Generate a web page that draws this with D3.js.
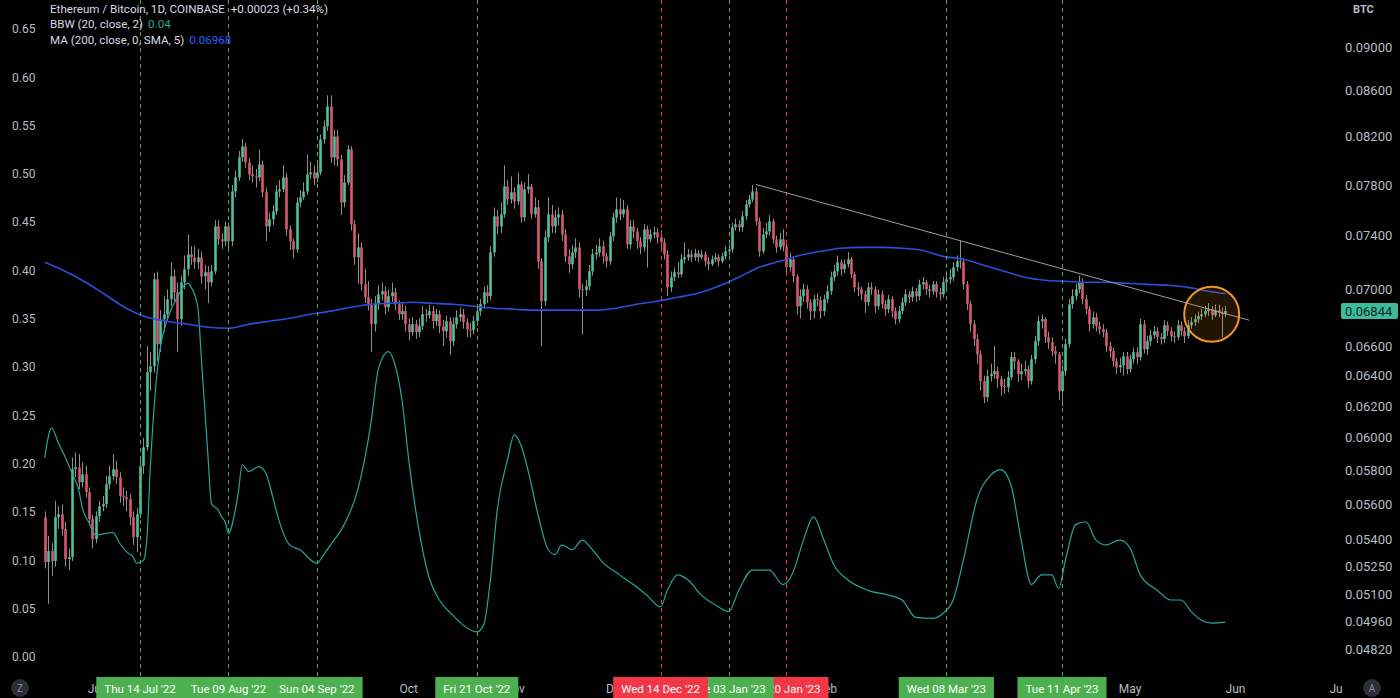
<!DOCTYPE html>
<html><head><meta charset="utf-8">
<script src="https://cdn.jsdelivr.net/npm/d3@7"></script>
<style>html,body{margin:0;padding:0;background:#000;overflow:hidden}text{font-family:Roboto,"Noto Sans",sans-serif}</style>
</head><body>
<svg id="c" width="1400" height="698"></svg>
<script>
// ---------- DATA (ETH/BTC daily, Coinbase) ----------
const startDate = "2022-06-16";
const firstOpen = 0.05526;
const closes = [
.05275,.05335,.05280,.05526,.05543,.05458,.05291,.05302,.05808,.05820,
.05730,.05778,.05671,.05515,.05402,.05532,.05589,.05601,.05718,.05766,
.05808,.05760,.05648,.05642,.05630,.05526,.05413,.05543,.05826,.05942,
.06423,.06463,.07073,.06612,.06786,.06821,.06928,.07095,.06978,.06786,
.07051,.07147,.07258,.07236,.07199,.07236,.07095,.07125,.07051,.07132,
.07472,.07372,.07357,.07472,.07357,.07748,.07861,.08026,.08118,.07985,
.07886,.07870,.07861,.07968,.07740,.07472,.07527,.07589,.07748,.07764,
.07861,.07449,.07357,.07296,.07660,.07700,.07748,.07886,.07902,.07853,
.07902,.08177,.08288,.08462,.08026,.08202,.08010,.07660,.07820,.08093,
.07488,.07236,.07311,.07036,.06942,.06892,.06751,.06892,.06964,.06986,
.06871,.06950,.06978,.06892,.06821,.06843,.06751,.06695,.06751,.06695,
.06737,.06821,.06815,.06843,.06772,.06821,.06737,.06702,.06772,.06633,
.06751,.06800,.06821,.06765,.06716,.06710,.06772,.06843,.06892,.06978,
.06950,.07273,.07550,.07472,.07566,.07788,.07684,.07740,.07668,.07804,
.07542,.07764,.07788,.07566,.07621,.07206,.06914,.07387,.07566,.07472,
.07542,.07566,.07410,.07243,.07184,.07273,.07311,.07000,.06995,.07022,
.07132,.07258,.07273,.07319,.07243,.07206,.07395,.07542,.07605,.07566,
.07605,.07334,.07472,.07433,.07357,.07311,.07449,.07372,.07410,.07426,
.07387,.07349,.07258,.07014,.07088,.07125,.07110,.07221,.07236,.07258,
.07236,.07266,.07236,.07258,.07206,.07184,.07221,.07236,.07206,.07243,
.07281,.07296,.07465,.07488,.07465,.07550,.07644,.07684,.07748,.07511,
.07281,.07410,.07433,.07511,.07372,.07311,.07372,.07319,.07162,.07221,
.07095,.06878,.06950,.07000,.06906,.06843,.06928,.06921,.06843,.06928,
.06986,.07088,.07132,.07199,.07147,.07184,.07221,.07110,.07014,.07000,
.06964,.06906,.07014,.07000,.06878,.06964,.06892,.06857,.06928,.06843,
.06786,.06843,.06906,.06964,.06942,.06986,.06950,.07036,.07051,.07000,
.06986,.07036,.06978,.06964,.07051,.07073,.07088,.07162,.07206,.07199,
.07036,.06892,.06751,.06647,.06544,.06364,.06259,.06397,.06410,.06430,
.06377,.06331,.06324,.06390,.06524,.06496,.06410,.06430,.06443,.06364,
.06510,.06633,.06772,.06786,.06661,.06626,.06565,.06544,.06298,.06430,
.06612,.06892,.06950,.07000,.07051,.06928,.06857,.06751,.06800,.06737,
.06716,.06695,.06599,.06565,.06496,.06456,.06470,.06530,.06443,.06510,
.06558,.06524,.06751,.06578,.06633,.06674,.06702,.06661,.06647,.06744,
.06702,.06667,.06661,.06744,.06702,.06667,.06744,.06765,.06786,.06807,
.06821,.06843,.06857,.06814,.06850,.06830,.06821,.06844];
const highs = [
.05560,.05420,.05380,.05620,.05590,.05600,.05500,.05350,.05880,.05910,
.05900,.05850,.05830,.05700,.05540,.05560,.05620,.05650,.05770,.05830,
.05900,.05860,.05790,.05700,.05680,.05660,.05560,.05580,.05870,.06000,
.06600,.06560,.07120,.07130,.06850,.06950,.07000,.07200,.07150,.07050,
.07100,.07250,.07410,.07320,.07320,.07300,.07280,.07180,.07170,.07180,
.07520,.07520,.07420,.07510,.07500,.07800,.07920,.08080,.08180,.08150,
.08020,.07960,.07930,.08090,.08000,.07780,.07580,.07640,.07800,.07840,
.07960,.07900,.07480,.07380,.07700,.07760,.07820,.08050,.07990,.07960,
.08000,.08220,.08340,.08560,.08560,.08260,.08260,.08050,.07880,.08130,
.08120,.07520,.07420,.07350,.07150,.07060,.06930,.06950,.07030,.07050,
.07020,.07000,.07050,.07010,.06920,.06900,.06880,.06790,.06800,.06780,
.06790,.06880,.06860,.06890,.06880,.06860,.06850,.06780,.06810,.06800,
.06800,.06850,.06870,.06860,.06790,.06760,.06810,.06880,.06930,.07020,
.07030,.07320,.07620,.07600,.07660,.07960,.07840,.07870,.07780,.07900,
.07830,.07820,.07890,.07810,.07700,.07680,.07230,.07440,.07700,.07640,
.07600,.07620,.07600,.07450,.07300,.07330,.07380,.07350,.07040,.07070,
.07180,.07300,.07330,.07380,.07360,.07270,.07430,.07580,.07700,.07690,
.07680,.07640,.07520,.07520,.07460,.07390,.07490,.07480,.07450,.07470,
.07460,.07440,.07380,.07290,.07130,.07160,.07200,.07260,.07350,.07300,
.07290,.07300,.07290,.07290,.07280,.07240,.07250,.07270,.07260,.07270,
.07320,.07330,.07500,.07530,.07520,.07590,.07680,.07720,.07800,.07780,
.07540,.07460,.07500,.07560,.07530,.07400,.07420,.07450,.07340,.07270,
.07240,.07110,.07000,.07040,.07030,.06930,.06960,.06970,.06950,.06960,
.07030,.07130,.07180,.07250,.07220,.07220,.07275,.07240,.07130,.07050,
.07020,.06990,.07050,.07050,.07020,.07000,.06990,.06920,.06960,.06950,
.06870,.06880,.06940,.07000,.06990,.07020,.07010,.07070,.07090,.07070,
.07030,.07060,.07060,.07010,.07090,.07130,.07150,.07200,.07250,.07360,
.07230,.07060,.06920,.06780,.06680,.06570,.06400,.06440,.06480,.06600,
.06460,.06400,.06380,.06430,.06560,.06560,.06510,.06480,.06500,.06470,
.06540,.06670,.06810,.06820,.06800,.06700,.06660,.06600,.06560,.06470,
.06650,.06930,.07000,.07040,.07100,.07080,.06960,.06880,.06840,.06830,
.06770,.06750,.06720,.06630,.06590,.06520,.06520,.06560,.06560,.06540,
.06590,.06590,.06790,.06780,.06670,.06710,.06740,.06730,.06690,.06780,
.06770,.06730,.06700,.06780,.06770,.06730,.06780,.06800,.06820,.06840,
.06860,.06880,.06900,.06880,.06890,.06890,.06870,.06880];
const lows = [
.05240,.05050,.05200,.05250,.05460,.05420,.05250,.05230,.05280,.05760,
.05690,.05700,.05640,.05480,.05350,.05380,.05500,.05560,.05580,.05690,
.05740,.05720,.05610,.05590,.05560,.05480,.05370,.05330,.05520,.05780,
.05920,.06300,.06420,.06500,.06560,.06700,.06780,.06880,.06900,.06560,
.06740,.07000,.07100,.07180,.07150,.07150,.07040,.07000,.06900,.07020,
.07110,.07330,.07300,.07320,.07300,.07320,.07700,.07830,.07990,.07940,
.07840,.07820,.07780,.07830,.07700,.07360,.07430,.07480,.07560,.07700,
.07740,.07400,.07290,.07230,.07270,.07620,.07680,.07720,.07850,.07800,
.07820,.07880,.08140,.08250,.07980,.07960,.07950,.07560,.07620,.07800,
.07440,.07180,.07040,.06990,.06900,.06850,.06560,.06700,.06850,.06920,
.06820,.06840,.06910,.06850,.06780,.06780,.06700,.06640,.06670,.06650,
.06660,.06710,.06770,.06790,.06720,.06740,.06690,.06600,.06660,.06540,
.06600,.06720,.06770,.06720,.06660,.06660,.06680,.06740,.06810,.06860,
.06900,.06920,.07240,.07410,.07420,.07540,.07640,.07650,.07610,.07640,
.07500,.07510,.07730,.07530,.07540,.07150,.06600,.06880,.07350,.07420,
.07420,.07480,.07360,.07200,.07120,.07150,.07230,.06940,.06680,.06950,
.06990,.07100,.07220,.07240,.07190,.07160,.07180,.07360,.07500,.07520,
.07540,.07300,.07300,.07380,.07300,.07260,.07280,.07160,.07350,.07380,
.07340,.07300,.07220,.06950,.06980,.07060,.07080,.07090,.07190,.07210,
.07200,.07210,.07200,.07220,.07170,.07140,.07170,.07200,.07170,.07190,
.07220,.07250,.07270,.07440,.07430,.07430,.07520,.07620,.07660,.07480,
.07240,.07260,.07380,.07400,.07340,.07270,.07290,.07280,.07120,.07130,
.07050,.06820,.06790,.06910,.06860,.06780,.06790,.06880,.06790,.06810,
.06900,.06960,.07060,.07100,.07100,.07120,.07160,.07080,.06980,.06950,
.06920,.06830,.06880,.06960,.06830,.06850,.06860,.06810,.06830,.06800,
.06750,.06760,.06820,.06880,.06900,.06910,.06910,.06920,.07000,.06960,
.06940,.06960,.06940,.06920,.06940,.07010,.07040,.07060,.07130,.07150,
.07000,.06850,.06700,.06600,.06480,.06300,.06220,.06230,.06360,.06380,
.06320,.06270,.06280,.06290,.06370,.06440,.06360,.06370,.06400,.06320,
.06340,.06480,.06600,.06720,.06620,.06580,.06530,.06480,.06240,.06200,
.06400,.06590,.06860,.06920,.06970,.06890,.06820,.06700,.06720,.06700,
.06680,.06660,.06560,.06520,.06460,.06410,.06420,.06400,.06410,.06420,
.06480,.06480,.06500,.06550,.06540,.06600,.06650,.06620,.06610,.06620,
.06670,.06630,.06620,.06640,.06670,.06620,.06650,.06720,.06740,.06760,
.06780,.06800,.06810,.06780,.06800,.06800,.06660,.06800];

// 200-day SMA, sampled (day index from startDate, value in BTC)
const maDayIndex = [0,6,12,18,24,30,36,42,48,54,60,66,72,78,84,90,96,102,108,114,120,126,132,138,144,150,156,162,168,174,180,186,192,198,204,210,216,222,228,234,240,246,252,258,264,270,276,282,288,294,300,306,312,318,324,330,336,342,347];
const maValues = [
.07199,.07132,.07051,.06957,.06864,.06800,.06772,.06751,.06730,.06723,
.06751,.06772,.06793,.06821,.06843,.06871,.06892,.06899,.06906,.06899,
.06892,.06878,.06864,.06857,.06850,.06850,.06850,.06850,.06864,.06892,
.06914,.06942,.06971,.07022,.07088,.07162,.07206,.07251,.07281,.07304,
.07311,.07311,.07304,.07288,.07243,.07221,.07177,.07132,.07088,.07066,
.07058,.07051,.07051,.07044,.07036,.07029,.07014,.06986,.06968];

// Bollinger Band Width (20, close, 2), sampled
const bbwDayIndex = [0,2,4,6,8,10,11,13,15,18,20,22,24,26,27,29,30,31,33,34,36,39,42,43,45,46,47,48,49,51,52,53,54,56,57,58,60,63,65,67,68,72,75,80,82,84,88,92,96,98,101,103,105,107,110,113,116,120,123,127,129,131,133,136,138,140,142,145,148,150,152,155,158,161,164,169,173,177,181,183,186,189,193,198,201,204,208,213,217,220,223,226,229,232,236,242,248,252,256,261,264,267,270,274,278,281,284,287,290,293,296,298,300,303,306,309,312,316,319,322,327,331,334,337,340,343,347];
const bbwValues = [
0.206,0.237,0.2215,0.207,0.190,0.173,0.155,0.139,0.126,0.128,
0.129,0.118,0.109,0.1035,0.097,0.100,0.121,0.194,0.294,0.321,
0.349,0.373,0.387,0.383,0.362,0.311,0.259,0.207,0.159,0.152,
0.145,0.140,0.128,0.152,0.173,0.199,0.192,0.197,0.190,0.166,
0.152,0.116,0.111,0.097,0.106,0.116,0.137,0.173,0.245,0.297,
0.316,0.302,0.266,0.204,0.131,0.082,0.059,0.043,0.033,0.026,
0.033,0.080,0.152,0.204,0.230,0.219,0.194,0.147,0.111,0.106,
0.116,0.111,0.121,0.111,0.098,0.085,0.075,0.064,0.052,0.069,
0.085,0.080,0.064,0.052,0.047,0.069,0.090,0.090,0.075,0.088,
0.121,0.145,0.121,0.095,0.080,0.069,0.064,0.059,0.041,0.040,
0.045,0.059,0.100,0.163,0.188,0.194,0.178,0.121,0.075,0.085,
0.085,0.071,0.100,0.137,0.140,0.121,0.116,0.121,0.113,0.085,
0.069,0.059,0.059,0.047,0.038,0.035,0.036];

const priceTicks = [0.09,0.086,0.082,0.078,0.074,0.07,0.066,0.064,0.062,0.06,0.058,0.056,0.054,0.0525,0.051,0.0496,0.0482];
const bbwTicks = [0,0.05,0.10,0.15,0.20,0.25,0.30,0.35,0.40,0.45,0.50,0.55,0.60,0.65];
const monthDates = ["2022-07-01","2022-10-01","2022-11-01","2022-12-01","2023-02-01","2023-05-01","2023-06-01","2023-07-01"];
const monthNames = ["Jul","Oct","Nov","Dec","Feb","May","Jun","Jul"];
const markerDates = ["2022-07-14","2022-08-09","2022-09-04","2022-10-21","2022-12-14","2023-01-03","2023-01-20","2023-03-08","2023-04-11"];
const markerLabels = ["Thu 14 Jul '22","Tue 09 Aug '22","Sun 04 Sep '22","Fri 21 Oct '22","Wed 14 Dec '22","Tue 03 Jan '23","Fri 20 Jan '23","Wed 08 Mar '23","Tue 11 Apr '23"];
const markerKinds = ["up","up","up","up","down","up","down","up","up"];
const trendDates = ["2023-01-11","2023-06-05"];
const trendPrices = [0.07804, 0.06779];
const circleDate = "2023-05-25", circlePrice = 0.06821;
const lastPrice = 0.06844, lastMA = 0.06968, lastBBW = 0.04;

// ---------- CHART ----------
const W = 1400, H = 698, plotRight = 1338, plotBottom = 677;
const C = {bg:"#000000", up:"#4cc3a0", down:"#d95a6e", wick:"#8e8e8e", ma:"#2b4fd9", bbw:"#26a69a",
  green:"#4caf50", red:"#f23645", text:"#c9ccd3", axis:"#b8bbc3"};
const parse = d3.timeParse("%Y-%m-%d");
const start = parse(startDate);
const candles = closes.map((c,i)=>({date:d3.timeDay.offset(start,i), open:i===0?firstOpen:closes[i-1], close:c, high:highs[i], low:lows[i]}));

const x = d3.scaleTime().domain([parse("2022-07-14"), parse("2023-04-11")]).range([140,1062]);
const yP = d3.scaleLog().domain([0.0482,0.09]).range([649,47]);
const yB = d3.scaleLinear().domain([0,0.65]).range([657,29]);

const svg = d3.select("#c");
svg.append("rect").attr("width",W).attr("height",H).attr("fill",C.bg);
const defs = svg.append("defs");
defs.append("clipPath").attr("id","plot").append("rect").attr("x",0).attr("y",0).attr("width",plotRight).attr("height",plotBottom);
defs.append("clipPath").attr("id","xax").append("rect").attr("x",0).attr("y",plotBottom).attr("width",1342).attr("height",H-plotBottom);

const plot = svg.append("g").attr("clip-path","url(#plot)");

// candles
const bw = 2.6;
const cg = plot.append("g");
cg.selectAll("line.w").data(candles).join("line")
  .attr("x1",d=>Math.round(x(d.date))+0.5).attr("x2",d=>Math.round(x(d.date))+0.5)
  .attr("y1",d=>yP(d.high)).attr("y2",d=>yP(d.low))
  .attr("stroke",C.wick).attr("stroke-width",1);
cg.selectAll("rect.b").data(candles).join("rect")
  .attr("x",d=>Math.round(x(d.date))+0.5-bw/2).attr("width",bw)
  .attr("y",d=>yP(Math.max(d.open,d.close)))
  .attr("height",d=>Math.max(1,yP(Math.min(d.open,d.close))-yP(Math.max(d.open,d.close))))
  .attr("fill",d=>d.close>=d.open?C.up:C.down);

// BBW
const bbwPts = bbwDayIndex.map((di,k)=>({date:d3.timeDay.offset(start,di), v:bbwValues[k]}));
plot.append("path").datum(bbwPts)
  .attr("d",d3.line().x(d=>x(d.date)).y(d=>yB(d.v)).curve(d3.curveMonotoneX))
  .attr("fill","none").attr("stroke",C.bbw).attr("stroke-width",1.2);

// MA
const maPts = maDayIndex.map((di,k)=>({date:d3.timeDay.offset(start,di), v:maValues[k]}));
plot.append("path").datum(maPts)
  .attr("d",d3.line().x(d=>x(d.date)).y(d=>yP(d.v)).curve(d3.curveMonotoneX))
  .attr("fill","none").attr("stroke",C.ma).attr("stroke-width",1.6);

// vertical marker lines
markerDates.forEach((ds,k)=>{
  const xx = Math.round(x(parse(ds)))+0.5;
  plot.append("line").attr("x1",xx).attr("x2",xx).attr("y1",0).attr("y2",plotBottom)
    .attr("stroke",markerKinds[k]==="up"?C.green:C.red).attr("stroke-width",1).attr("stroke-dasharray","4,4");
});

// trend line
plot.append("line")
  .attr("x1",x(parse(trendDates[0]))).attr("y1",yP(trendPrices[0]))
  .attr("x2",x(parse(trendDates[1]))).attr("y2",yP(trendPrices[1]))
  .attr("stroke","#9a9da5").attr("stroke-width",1);

// circle annotation
plot.append("circle").attr("cx",x(parse(circleDate))).attr("cy",yP(circlePrice)).attr("r",27.5)
  .attr("fill","rgba(255,152,0,0.13)").attr("stroke","#f0952a").attr("stroke-width",2);

// left axis (BBW)
svg.append("g").selectAll("text").data(bbwTicks).join("text")
  .attr("x",12).attr("y",d=>yB(d)).attr("dy","0.35em")
  .attr("font-size",12).attr("fill",C.axis).text(d=>d.toFixed(2));

// right axis (price)
svg.append("text").attr("x",1353).attr("y",9).attr("dy","0.35em").attr("font-size",11).attr("font-weight","bold").attr("fill",C.axis).text("BTC");
svg.append("g").selectAll("text").data(priceTicks).join("text")
  .attr("x",1345).attr("y",d=>yP(d)).attr("dy","0.35em")
  .attr("font-size",13).attr("fill",C.axis).text(d=>d.toFixed(5));
// last price label
const lpY = yP(lastPrice);
svg.append("rect").attr("x",1341).attr("y",lpY-8).attr("width",57).attr("height",16).attr("rx",2).attr("fill","#3dbb9b");
svg.append("text").attr("x",1345).attr("y",lpY).attr("dy","0.35em").attr("font-size",13).attr("fill","#0d2a24").text(lastPrice.toFixed(5));

// bottom axis
const xg = svg.append("g").attr("clip-path","url(#xax)");
xg.selectAll("text.m").data(monthDates).join("text")
  .attr("x",(d)=>x(parse(d))).attr("y",689).attr("dy","0.35em").attr("text-anchor","middle")
  .attr("font-size",12).attr("fill",C.axis).text((d,i)=>monthNames[i]);
// marker date boxes, drawn latest first so earlier ones sit on top
d3.range(markerDates.length).reverse().forEach(k=>{
  const xx = x(parse(markerDates[k]));
  const g = xg.append("g");
  const t = g.append("text").attr("x",xx).attr("y",689).attr("dy","0.35em").attr("text-anchor","middle")
    .attr("font-size",11.5).attr("fill","#ffffff").text(markerLabels[k]);
  const tw = t.node().getComputedTextLength();
  g.insert("rect","text").attr("x",xx-tw/2-8).attr("y",plotBottom).attr("width",tw+16).attr("height",H-plotBottom)
    .attr("fill",markerKinds[k]==="up"?C.green:C.red);
});
// corner buttons
[[20,"Z"],[1372,"A"]].forEach(([cx,l])=>{
  svg.append("circle").attr("cx",cx).attr("cy",688).attr("r",9).attr("fill","#2a2e39");
  svg.append("text").attr("x",cx).attr("y",688).attr("dy","0.35em").attr("text-anchor","middle").attr("font-size",10).attr("fill","#8a8d96").text(l);
});

// legend
const lg = svg.append("g").attr("font-size",11.6).attr("fill","#d8dbe2");
const l1 = lg.append("text").attr("x",50).attr("y",9).attr("dy","0.35em");
l1.append("tspan").text("Ethereum / Bitcoin, 1D, COINBASE");
l1.append("tspan").attr("dx",6).text("+0.00023 (+0.34%)");
const l2 = lg.append("text").attr("x",50).attr("y",24).attr("dy","0.35em");
l2.append("tspan").text("BBW (20, close, 2)");
l2.append("tspan").attr("dx",5).attr("fill",C.bbw).text(lastBBW.toFixed(2));
const l3 = lg.append("text").attr("x",50).attr("y",40).attr("dy","0.35em");
l3.append("tspan").text("MA (200, close, 0, SMA, 5)");
l3.append("tspan").attr("dx",5).attr("fill","#2962ff").text(lastMA.toFixed(5));
</script>
</body></html>
